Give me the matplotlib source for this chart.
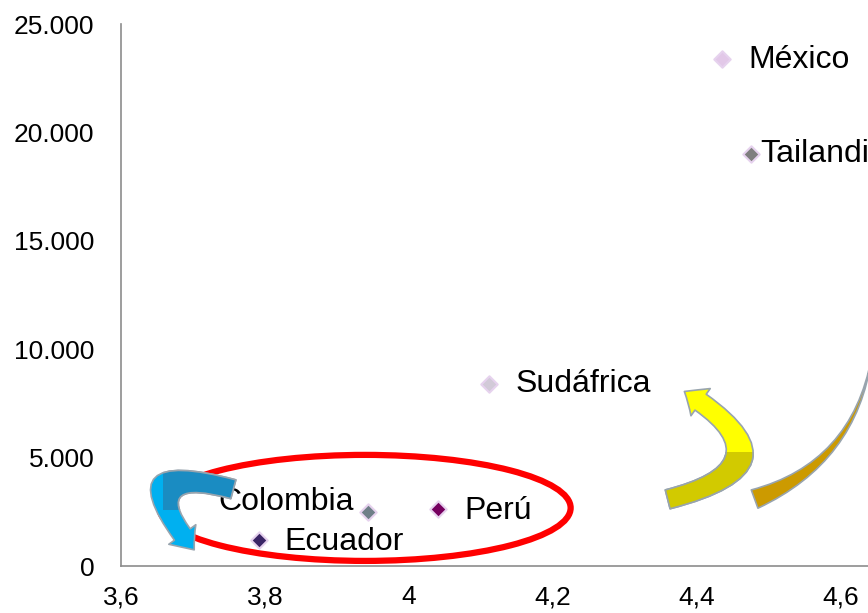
import matplotlib.pyplot as plt
from matplotlib.patches import Ellipse, FancyArrowPatch
from matplotlib.transforms import Bbox

plt.rcParams['font.family'] = ['Liberation Sans', 'DejaVu Sans']

# data
countries = ['México', 'Tailandia', 'Sudáfrica', 'Colombia', 'Perú', 'Ecuador']
x_vals = [4.435, 4.475, 4.111, 3.943, 4.040, 3.792]
y_vals = [23400, 19000, 8400, 2500, 2650, 1200]
colors = ['#e2c8e8', '#7f7f7f', '#d2cad8', '#6f7f88', '#76005f', '#3a2566']

x_ticks = [3.6, 3.8, 4.0, 4.2, 4.4, 4.6]
x_labels = ['3,6', '3,8', '4', '4,2', '4,4', '4,6']
y_ticks = [0, 5000, 10000, 15000, 20000, 25000]
y_labels = ['0', '5.000', '10.000', '15.000', '20.000', '25.000']

fig = plt.figure(figsize=(8.68, 6.13), dpi=100)
ax = fig.add_axes([121 / 868, 47 / 613, 747 / 868, 542 / 613])

for x, y, c in zip(x_vals, y_vals, colors):
    ax.scatter(x, y, marker='D', s=70, color=c, edgecolors='#e6d2ee', linewidths=1.5, zorder=3)

# label offsets in pixels (ha, dx, dy)
offsets = {
    'México': ('left', 26, -1),
    'Tailandia': ('left', 9, 0),
    'Sudáfrica': ('left', 27, 0),
    'Colombia': ('right', -14, 10),
    'Perú': ('left', 27, -2),
    'Ecuador': ('left', 25, -2),
}
for name, x, y in zip(countries, x_vals, y_vals):
    ha, dx, dy = offsets[name]
    ax.annotate(name, (x, y), xytext=(dx, dy), textcoords='offset pixels',
                ha=ha, va='center', fontsize=23, color='black', annotation_clip=False)

ax.set_xlim(3.6, 4.6375)
ax.set_ylim(0, 25000)
ax.set_xticks(x_ticks)
ax.set_xticklabels(x_labels)
ax.set_yticks(y_ticks)
ax.set_yticklabels(y_labels)
ax.tick_params(length=0, labelsize=19)
ax.tick_params(axis='y', pad=19)
ax.tick_params(axis='x', pad=14)
for s in ['top', 'right']:
    ax.spines[s].set_visible(False)
for s in ['left', 'bottom']:
    ax.spines[s].set_color('#8c8c8c')
    ax.spines[s].set_linewidth(1.2)

# red ellipse around the andean group
ell = Ellipse((3.939, 2680), 0.571, 4890, fill=False, edgecolor='#ff0000', linewidth=4.5,
              clip_on=False, zorder=2)
ax.add_patch(ell)


# decorative curved arrows (figure pixel coords, y up)
def px(x, y):
    return (x, 613 - y)


def curved(p0, p1, rad, style, fc, clip=None):
    a = FancyArrowPatch(px(*p0), px(*p1), transform=None,
                        connectionstyle='arc3,rad=%s' % rad, arrowstyle=style,
                        facecolor=fc, edgecolor='#98a4ae', linewidth=1.2, zorder=4)
    if clip is not None:
        x0, y0, x1, y1 = clip
        a.set_clip_box(Bbox([[x0, 613 - y1], [x1, 613 - y0]]))
    fig.patches.append(a)


arrow_style = 'simple,head_length=14,head_width=24,tail_width=14'
curved((236, 490), (196, 552), 1.6, arrow_style, '#00b0f0')
curved((236, 490), (196, 552), 1.6, arrow_style, '#1a8cc2', clip=(163, 440, 260, 510))
curved((665, 500), (682, 390), 1.2, arrow_style, '#ffff00')
curved((665, 500), (682, 390), 1.2, arrow_style, '#d2ca00', clip=(640, 452, 780, 530))
curved((752, 500), (872, 355), 0.3, 'wedge,tail_width=14,shrink_factor=0.3', '#cc9a00')

plt.savefig('out.png', dpi=100)
